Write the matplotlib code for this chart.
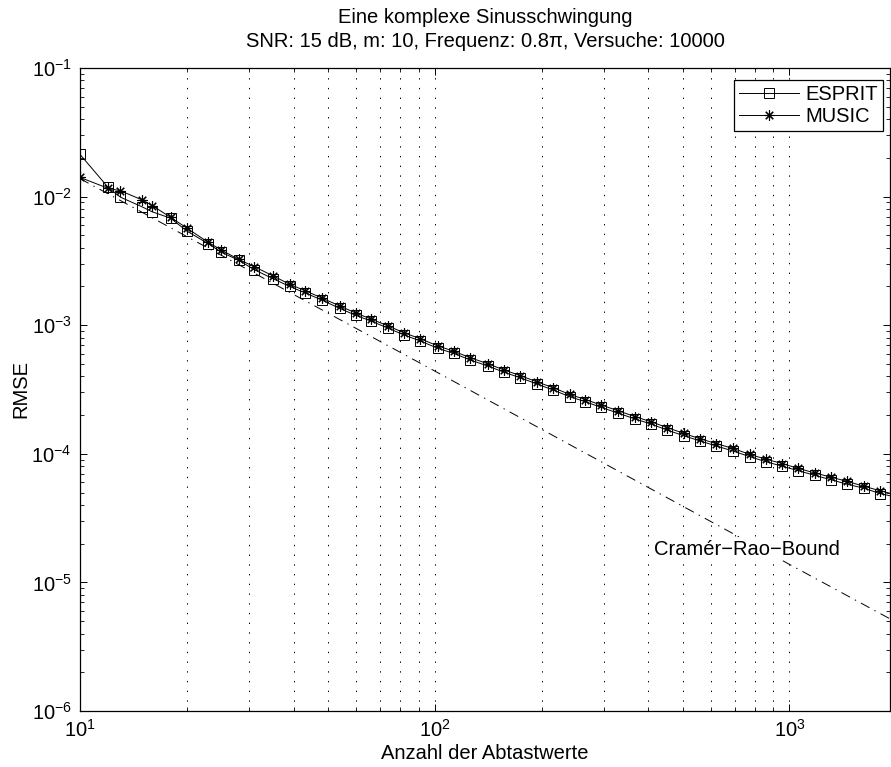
import numpy as np
import matplotlib
matplotlib.use('Agg')
import matplotlib.pyplot as plt
import matplotlib.ticker as mtick

matplotlib.rcParams['font.family'] = ['Liberation Sans', 'DejaVu Sans']
matplotlib.rcParams['mathtext.fontset'] = 'custom'
matplotlib.rcParams['mathtext.rm'] = 'Liberation Sans'
matplotlib.rcParams['mathtext.it'] = 'Liberation Sans:italic'
matplotlib.rcParams['lines.scale_dashes'] = False

# number of samples
n_samples = [10, 12, 13, 15, 16, 18, 20, 23, 25, 28, 31, 35, 39, 43, 48, 54, 60, 66,
             74, 82, 91, 102, 113, 126, 141, 157, 174, 194, 216, 240, 266, 294, 329,
             366, 408, 452, 504, 559, 622, 694, 772, 856, 954, 1058, 1178, 1305, 1454,
             1620, 1804, 2000]

rmse_esprit = [0.0213, 0.0118, 0.0099, 0.0083, 0.0076, 0.0068, 0.0054, 0.0043, 0.0037,
               0.0032, 0.0027, 0.0023, 0.0020, 0.00179, 0.00157, 0.00135, 0.00119,
               0.00108, 0.000946, 0.000839, 0.000754, 0.000661, 0.000604, 0.000536,
               0.000482, 0.000430, 0.000391, 0.000349, 0.000313, 0.000278, 0.000254,
               0.000230, 0.000207, 0.000187, 0.000170, 0.000153, 0.000138, 0.000126,
               0.000115, 0.000105, 9.5e-5, 8.7e-5, 8.0e-5, 7.4e-5, 6.8e-5, 6.3e-5,
               5.8e-5, 5.4e-5, 4.9e-5, 4.6e-5]

rmse_music = [0.0141, 0.0116, 0.0111, 0.0094, 0.0085, 0.0069, 0.0057, 0.0044, 0.00385,
              0.00325, 0.00285, 0.00242, 0.00208, 0.00186, 0.00163, 0.00141, 0.00124,
              0.00112, 0.000985, 0.000872, 0.000785, 0.000690, 0.000628, 0.000558,
              0.000502, 0.000448, 0.000406, 0.000363, 0.000326, 0.000290, 0.000264,
              0.000240, 0.000216, 0.000195, 0.000177, 0.000160, 0.000144, 0.000131,
              0.000120, 0.000110, 9.9e-5, 9.1e-5, 8.4e-5, 7.7e-5, 7.1e-5, 6.6e-5,
              6.1e-5, 5.6e-5, 5.15e-5, 4.8e-5]

crb_n = [10, 100, 1000, 2000]
crb_rmse = [1.38e-2, 4.4e-4, 1.38e-5, 4.9e-6]

fs = 14.5
fig = plt.figure(figsize=(8.91, 7.67), dpi=100)
ax = fig.add_axes([80 / 891, 56 / 767, 810 / 891, 643 / 767])

ax.plot(n_samples, rmse_esprit, color='k', linewidth=0.7, marker='s', markersize=6.5,
        markerfacecolor='none', markeredgewidth=0.7, label='ESPRIT')
ax.plot(n_samples, rmse_music, color='k', linewidth=0.7, marker=(8, 2, 0), markersize=7.5,
        markeredgewidth=0.8, label='MUSIC')
ax.plot(crb_n, crb_rmse, color='k', linewidth=0.7, linestyle=(0, (7, 4, 1, 4)))
# label with white background, hides the bound line behind it
ax.text(414, 1.8e-5, 'Cram\u00e9r\u2212Rao\u2212Bound', fontsize=fs, ha='left', va='center',
        zorder=5, bbox=dict(facecolor='white', edgecolor='none', pad=1))

ax.set_xscale('log')
ax.set_yscale('log')
ax.set_xlim(10, 1920)
ax.set_ylim(1e-6, 1e-1)
ax.xaxis.set_minor_locator(mtick.LogLocator(base=10, subs=np.arange(2, 10), numticks=20))
ax.yaxis.set_minor_locator(mtick.LogLocator(base=10, subs=np.arange(2, 10), numticks=20))
ax.xaxis.set_minor_formatter(mtick.NullFormatter())
ax.yaxis.set_minor_formatter(mtick.NullFormatter())
ax.tick_params(which='both', direction='in', top=True, right=True, labelsize=fs, pad=6)
ax.tick_params(which='major', length=5, width=0.7)
ax.tick_params(which='minor', length=3, width=0.6)
for s in ax.spines.values():
    s.set_linewidth(0.9)

ax.grid(True, which='both', axis='x', color='k', linewidth=0.7, linestyle=(0, (1, 6)))

ax.set_xlabel('Anzahl der Abtastwerte', fontsize=fs, labelpad=2)
ax.set_ylabel('RMSE', fontsize=fs, labelpad=1)
ax.set_title('Eine komplexe Sinusschwingung\nSNR: 15 dB, m: 10, Frequenz: 0.8\u03c0, Versuche: 10000',
             fontsize=fs, pad=15, linespacing=1.35)

leg = ax.legend(loc='upper right', bbox_to_anchor=(0.9914, 0.9813), borderaxespad=0,
                fontsize=fs, fancybox=False, edgecolor='k', framealpha=1,
                handlelength=3.0, handletextpad=0.3, labelspacing=0.15, borderpad=0.25)
leg.get_frame().set_linewidth(0.9)

fig.savefig('out.png', dpi=100)
